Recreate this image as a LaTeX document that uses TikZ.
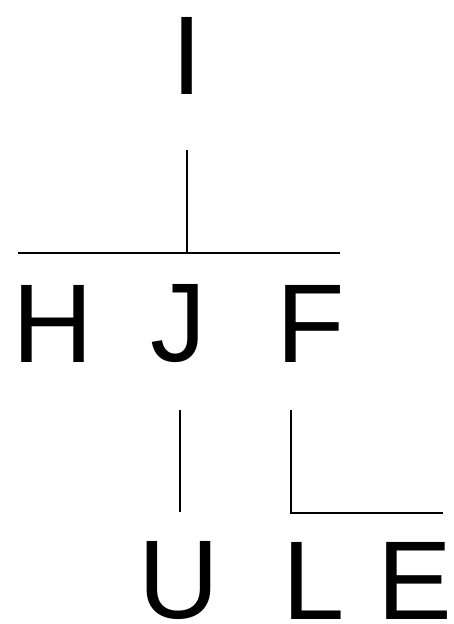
\documentclass[tikz,border=0pt]{standalone}
\usepackage{fontspec}
\setmainfont{Liberation Sans}
\begin{document}
\begin{tikzpicture}[x=1pt,y=-1pt,
  lab/.style={font=\fontsize{112}{130}\selectfont, inner sep=0pt, anchor=center},
  edge/.style={line width=2pt, black}]
\useasboundingbox (0,0) rectangle (453,624);
\node[lab] (I) at (187,56) {I};
\node[lab] (H) at (53,324) {H};
\node[lab] (J) at (178,324) {J};
\node[lab] (F) at (311,324) {F};
\node[lab] (U) at (179,581) {U};
\node[lab] (L) at (314,581) {L};
\node[lab] (E) at (415,581) {E};
\coordinate (a1) at (187,150);
\coordinate (a2) at (187,253);
\coordinate (b1) at (18,253);
\coordinate (b2) at (340,253);
\coordinate (c1) at (180,410);
\coordinate (c2) at (180,512);
\coordinate (d1) at (291,410);
\coordinate (d2) at (291,513);
\coordinate (d3) at (443,513);
\draw[edge] (a1) -- (a2);
\draw[edge] (b1) -- (b2);
\draw[edge] (c1) -- (c2);
\draw[edge] (d1) -- (d2) -- (d3);
\end{tikzpicture}
\end{document}
